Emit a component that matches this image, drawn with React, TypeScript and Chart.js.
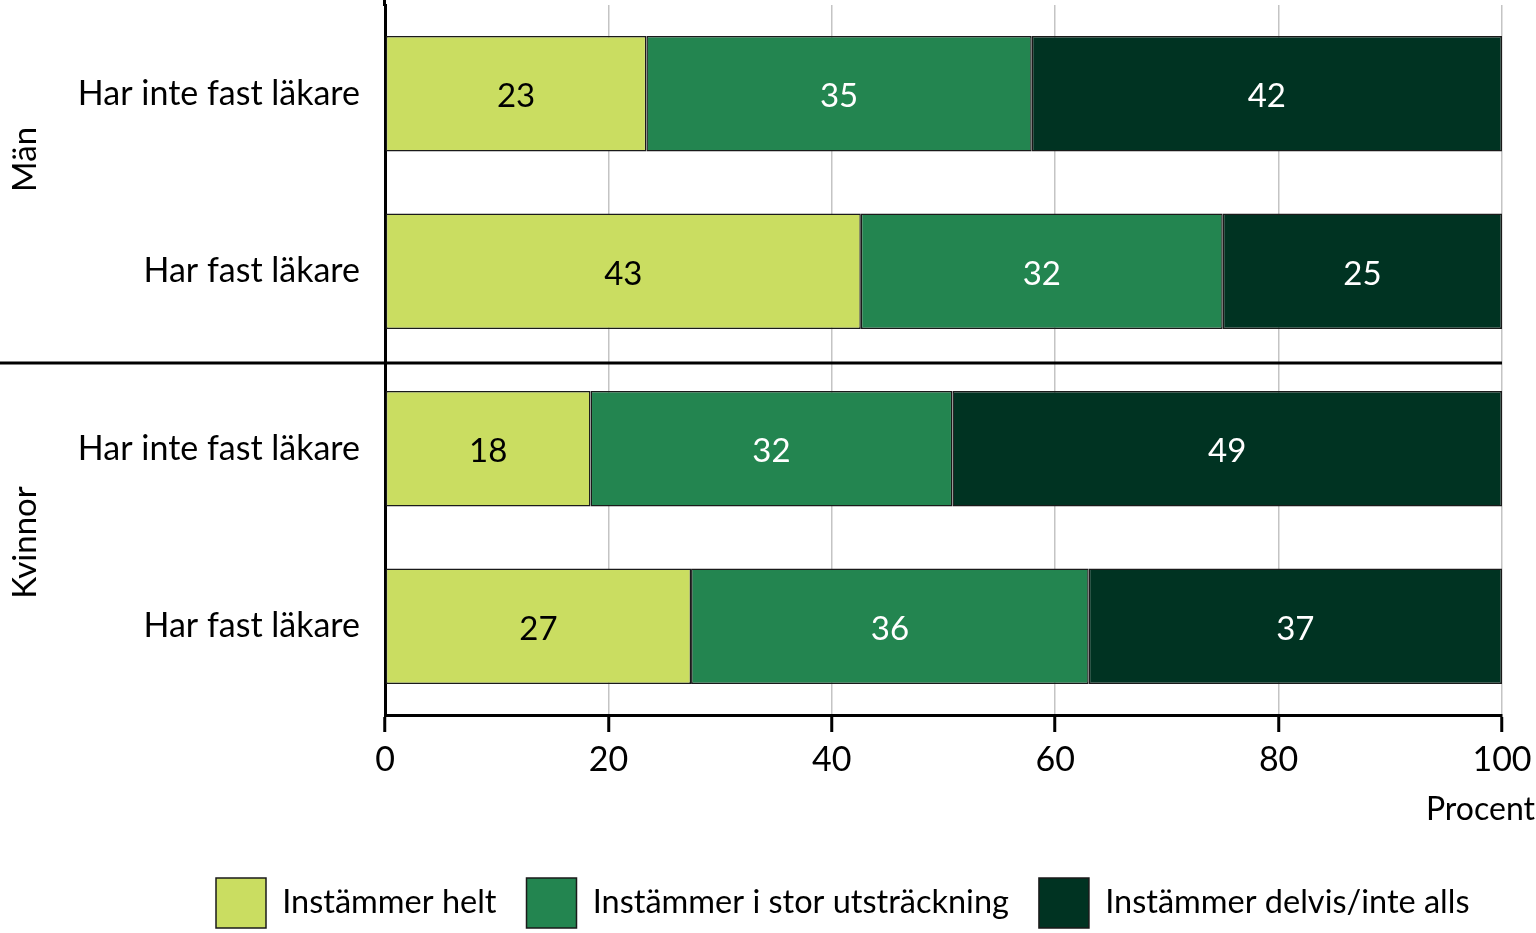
import React, { useEffect, useRef } from "react";
import { Chart, registerables } from "chart.js";

Chart.register(...registerables);

// ---- data ----
const categories = ["Har inte fast läkare", "Har fast läkare", "Har inte fast läkare", "Har fast läkare"];
const groups = ["Män", "Kvinnor"];
const seriesNames = ["Instämmer helt", "Instämmer i stor utsträckning", "Instämmer delvis/inte alls"];
const instammerHelt = [23.4, 42.6, 18.4, 27.4];
const instammerStor = [34.5, 32.4, 32.4, 35.6];
const instammerDelvis = [42.1, 25.0, 49.2, 37.0];
const xTicks = [0, 20, 40, 60, 80, 100];
const xTitle = "Procent";

// ---- style ----
const FONT = "Lato, 'DejaVu Sans', sans-serif";
const COLORS = ["#cadd61", "#238550", "#003322"];
const LABEL_COLORS = ["#000000", "#ffffff", "#ffffff"];
const BORDER = "#1a1a1a";
const W = 1536;
const H = 933;
const LEGEND_PAD = 30;

export default function App() {
  const ref = useRef<HTMLCanvasElement | null>(null);

  useEffect(() => {
    const canvas = ref.current;
    if (!canvas) return;

    const overlay = {
      id: "overlay",
      afterLayout(chart: any) {
        const lg = chart.legend;
        if (lg) {
          const dx = 216 - LEGEND_PAD - lg.left;
          lg.left += dx;
          lg.right += dx;
          lg.top += 5;
          lg.bottom += 5;
        }
      },
      afterDatasetsDraw(chart: any) {
        const ctx = chart.ctx;
        ctx.save();
        ctx.font = `33px ${FONT}`;
        ctx.textAlign = "center";
        ctx.textBaseline = "middle";
        chart.data.datasets.forEach((ds: any, di: number) => {
          const meta = chart.getDatasetMeta(di);
          meta.data.forEach((el: any, i: number) => {
            const v = ds.data[i];
            const cx = (el.x + el.base) / 2;
            ctx.fillStyle = LABEL_COLORS[di];
            ctx.fillText(String(Math.round(v)), cx, el.y + 3);
          });
        });
        ctx.restore();
      },
      afterDraw(chart: any) {
        const ctx = chart.ctx;
        const ca = chart.chartArea;
        const y = chart.scales.y;
        ctx.save();
        // extend y-axis line to top
        ctx.strokeStyle = "#000";
        ctx.lineWidth = 3;
        ctx.beginPath();
        ctx.moveTo(ca.left - 0.5, 0);
        ctx.lineTo(ca.left - 0.5, ca.top + 1);
        ctx.stroke();
        // group separator
        const sepY = (y.getPixelForValue(1) + y.getPixelForValue(2)) / 2 + 3;
        ctx.beginPath();
        ctx.moveTo(0, sepY);
        ctx.lineTo(ca.right, sepY);
        ctx.stroke();
        // group labels
        ctx.fillStyle = "#000";
        ctx.font = `33px ${FONT}`;
        ctx.textAlign = "center";
        ctx.textBaseline = "middle";
        const gy = [
          y.getPixelForValue(0) + (y.getPixelForValue(1) - y.getPixelForValue(0)) * 0.37,
          (y.getPixelForValue(2) + y.getPixelForValue(3)) / 2 + 5,
        ];
        groups.forEach((g, i) => {
          ctx.save();
          ctx.translate(25, gy[i]);
          ctx.rotate(-Math.PI / 2);
          ctx.fillText(g, 0, 0);
          ctx.restore();
        });
        // x title
        ctx.font = `32px ${FONT}`;
        ctx.textAlign = "right";
        ctx.fillText(xTitle, W - 1, 810);
        ctx.restore();
      },
    };

    const chart = new Chart(canvas, {
      type: "bar",
      data: {
        labels: categories,
        datasets: [instammerHelt, instammerStor, instammerDelvis].map((d, i) => ({
          label: seriesNames[i],
          data: d,
          backgroundColor: COLORS[i],
          borderColor: BORDER,
          borderWidth: 1.5,
          borderSkipped: false,
        })),
      },
      options: {
        indexAxis: "y",
        animation: false,
        responsive: false,
        maintainAspectRatio: false,
        layout: { padding: { top: 5, right: 34, bottom: 0, left: 0 } },
        datasets: { bar: { barPercentage: 0.65, categoryPercentage: 1 } },
        scales: {
          x: {
            stacked: true,
            min: 0,
            max: 100,
            afterBuildTicks: (s: any) => {
              s.ticks = xTicks.map((v) => ({ value: v }));
            },
            ticks: {
              font: { family: FONT, size: 34 },
              color: "#000",
              padding: 8,
              maxRotation: 0,
            },
            grid: {
              color: "#c4c4c4",
              lineWidth: 1.5,
              tickColor: "#000",
              tickWidth: 3,
              tickLength: 17,
            },
            border: { display: true, color: "#000", width: 3 },
            afterFit: (s: any) => {
              s.height = H - (50 + LEGEND_PAD + 10) - 715;
              s.paddingLeft = 0;
              s.paddingRight = 0;
            },
          },
          y: {
            stacked: true,
            ticks: { font: { family: FONT, size: 34 }, color: "#000", padding: 25 },
            grid: { display: false, drawTicks: false },
            border: { display: true, color: "#000", width: 3 },
            afterFit: (s: any) => {
              s.width = 385;
              s.paddingTop = 0;
              s.paddingBottom = 0;
            },
          },
        },
        plugins: {
          tooltip: { enabled: false },
          legend: {
            position: "bottom",
            align: "start",
            labels: {
              boxWidth: 50,
              boxHeight: 50,
              padding: LEGEND_PAD,
              color: "#000",
              font: { family: FONT, size: 32.5 },
            },
          },
        },
      },
      plugins: [overlay],
    } as any);

    return () => chart.destroy();
  }, []);

  return (
    <div style={{ position: "absolute", left: 0, top: 0, width: W, height: H, background: "#fff" }}>
      <canvas ref={ref} width={W} height={H} style={{ width: W, height: H, display: "block" }} />
    </div>
  );
}
